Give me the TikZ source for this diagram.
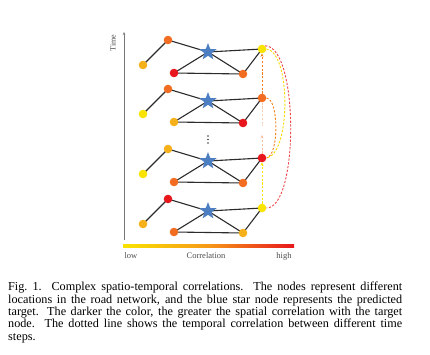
\documentclass[tikz,border=0pt]{standalone}
\usepackage{fontspec}
\setmainfont{Liberation Serif}
\usetikzlibrary{shapes.geometric,arrows.meta,backgrounds}
\definecolor{cy}{HTML}{F9E300}
\definecolor{ca}{HTML}{F6B11A}
\definecolor{co}{HTML}{F26C21}
\definecolor{cr}{HTML}{E8161D}
\definecolor{cb}{HTML}{4D7EC2}
\definecolor{edgec}{HTML}{2B2B2B}
\definecolor{axisc}{HTML}{777777}
\begin{document}
\begin{tikzpicture}[x=1pt,y=-1pt,
  dot/.style={circle,inner sep=0pt,minimum size=8.6pt,fill=#1},
  smalldot/.style={circle,inner sep=0pt,minimum size=1.8pt,fill=black!75},
  starnode/.style={star,star points=5,star point ratio=2.4,inner sep=0pt,minimum size=18pt,fill=cb},
  link/.style={draw=edgec,line width=1.1pt},
  tlink/.style={draw=#1,line width=0.9pt,dash pattern=on 2.2pt off 1.6pt},
  tip/.style={-{Stealth[length=3.2pt,width=3pt]}},
  lbl/.style={font=\fontsize{8.5}{10}\selectfont,text=black!70,inner sep=0pt}
]
\useasboundingbox (0,0) rectangle (430,354);
% axis
\coordinate (ax0) at (124,240);
\coordinate (ax1) at (124,32);
\draw[axisc,line width=0.8pt,-{Stealth[length=3pt,width=2.5pt]}] (ax0) -- (ax1);
\node[lbl,rotate=90,font=\fontsize{8}{10}\selectfont] (time) at (113,43) {Time};
% layers
\foreach \k/\dy/\cl/\ct/\cR/\cbl/\cbr in {1/0/ca/co/cy/cr/co,2/49/cy/co/co/ca/cr,3/109/cy/ca/cr/co/co,4/159/ca/cr/cy/co/ca}{
  \node[dot=\cl] (l\k) at (143,65+\dy) {};
  \node[dot=\ct] (t\k) at (168,40+\dy) {};
  \node[starnode] (s\k) at (208,52+\dy) {};
  \node[dot=\cR] (r\k) at (262,49+\dy) {};
  \node[dot=\cbl] (bl\k) at (174,73+\dy) {};
  \node[dot=\cbr] (br\k) at (243,74+\dy) {};
  \begin{pgfonlayer}{background}
    \draw[link] (l\k.center) -- (t\k.center) -- (s\k.center) -- (r\k.center);
    \draw[link] (s\k.center) -- (bl\k.center) -- (br\k.center) -- (s\k.center);
    \draw[link] (br\k.center) -- (r\k.center);
  \end{pgfonlayer}
}
\node[smalldot] (d1) at (208,136) {};
\node[smalldot] (d2) at (208,139.5) {};
\node[smalldot] (d3) at (208,143) {};
% temporal links
\draw[tlink=co!90!yellow,tip] (r2) -- (r1);
\coordinate (m23) at (262,135);
\coordinate (m32) at (262,126);
\draw[tlink=co!45,tip] (r3) -- (m23);
\draw[tlink=co!35] (r2) -- (m32);
\draw[tlink=cy,tip] (r4) -- (r3);
\draw[tlink=co!85!yellow] (r2.east) .. controls (279,99) and (279,156) .. (r3.east);
\draw[tlink=cy!90!orange] (r1.east) .. controls (291,52) and (291,154) .. (r3.east);
\draw[tlink=cr!80] (r1.north east) .. controls (299,46) and (299,208) .. (r4.east);
% colour bar
\shade[left color=cy,right color=cr,middle color=co!70!yellow] (123,244.8) rectangle (294,247.6);
\node[lbl] (low) at (131,256) {low};
\node[lbl] (corr) at (206,256) {Correlation};
\node[lbl] (high) at (284,256) {high};
% caption
\node[anchor=north west,text width=394pt,align=justify,inner sep=0pt,
      font=\fontsize{12.2}{12.4}\selectfont] (cap) at (8,282)
{Fig.~1.\ \ Complex spatio-temporal correlations. The nodes represent different\linebreak
locations in the road network, and the blue star node represents the predicted\linebreak
target. The darker the color, the greater the spatial correlation with the target\linebreak
node. The dotted line shows the temporal correlation between different time\linebreak
steps.};
\end{tikzpicture}
\end{document}
